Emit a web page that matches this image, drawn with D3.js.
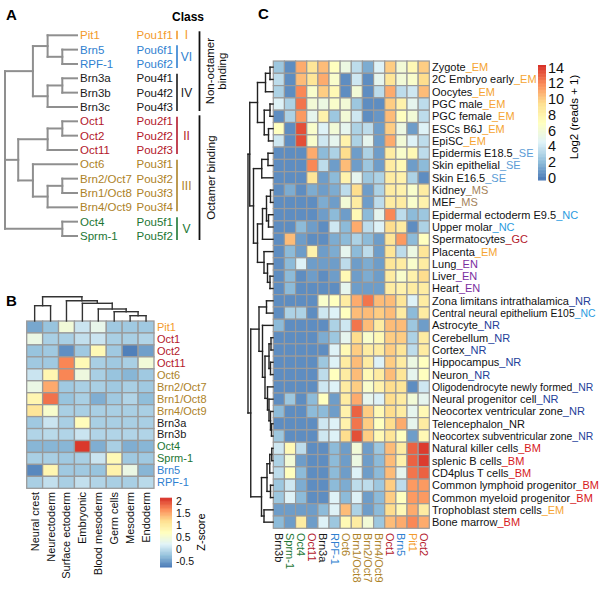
<!DOCTYPE html>
<html><head><meta charset="utf-8">
<script src="https://cdn.jsdelivr.net/npm/d3@7"></script>
<style>body{margin:0;background:#fff}svg{font-family:"Liberation Sans",Arial,Helvetica,sans-serif}</style>
</head><body><svg id="c" width="600" height="589"></svg>
<script>
// ---------------- DATA ----------------
const pouNames = ["Pit1","Brn5","RPF-1","Brn3a","Brn3b","Brn3c","Oct1","Oct2","Oct11","Oct6","Brn2/Oct7","Brn1/Oct8","Brn4/Oct9","Oct4","Sprm-1"];
const pouGenes = ["Pou1f1","Pou6f1","Pou6f2","Pou4f1","Pou4f2","Pou4f3","Pou2f1","Pou2f2","Pou2f3","Pou3f1","Pou3f2","Pou3f3","Pou3f4","Pou5f1","Pou5f2"];
const pouClass = ["I","VI","VI","IV","IV","IV","II","II","II","III","III","III","III","V","V"];
const classOrder = ["I","VI","IV","II","III","V"];
const classColors = ["#f39a2b","#2f7fd0","#1a1a1a","#b3172b","#ad8227","#1c7634"];
const bindingGroups = ["Non-octamer binding","Octamer binding"];
const bindingMembers = [["Pit1","Brn3c"],["Oct1","Sprm-1"]];
// tree A: [height, children...]
const treeA = [4.9,
  [3,[2,"Pit1",[1,"Brn5","RPF-1"]],[2,[1,"Brn3a","Brn3b"],"Brn3c"]],
  [4,[2,[1,"Oct1","Oct2"],"Oct11"],[3,"Oct6",[2,[1,"Brn2/Oct7","Brn1/Oct8"],"Brn4/Oct9"]]],
  [1,"Oct4","Sprm-1"]];

// Panel B
const tissuesB = ["Neural crest","Neurectoderm","Surface ectoderm","Embryonic","Blood mesoderm","Germ cells","Mesoderm","Endoderm"];
const rowsB = ["Pit1","Oct1","Oct2","Oct11","Oct6","Brn2/Oct7","Brn1/Oct8","Brn4/Oct9","Brn3a","Brn3b","Oct4","Sprm-1","Brn5","RPF-1"];
const zB = [
  [-0.4,-0.2,0.5,0.1,0.35,-0.15,-0.15,-0.15],
  [0.4,-0.1,-0.1,0.05,0.1,-0.1,-0.1,-0.05],
  [-0.2,-0.15,-0.55,-0.15,0.8,-0.15,-0.65,-0.45],
  [-0.15,-0.15,1.7,0.8,-0.1,-0.15,-0.1,0.5],
  [0.1,0.85,1.7,0.45,-0.1,-0.2,-0.3,-0.15],
  [0.4,1.5,-0.15,-0.1,-0.1,-0.15,-0.1,-0.15],
  [0.85,1.8,-0.2,-0.1,-0.35,-0.15,-0.05,-0.25],
  [1.1,0.6,-0.1,-0.1,-0.1,-0.1,-0.1,-0.1],
  [-0.15,0.1,-0.1,0.75,-0.1,-0.1,-0.1,-0.1],
  [-0.05,0.0,-0.05,0.1,-0.05,-0.05,-0.05,-0.05],
  [-0.3,-0.3,-0.3,2.1,-0.35,-0.1,-0.35,-0.3],
  [-0.1,-0.1,-0.15,-0.1,0.1,0.8,-0.15,-0.15],
  [-0.6,0.85,-0.15,-0.15,-0.2,0.9,0.4,-0.3],
  [-0.1,0.05,-0.1,0.05,-0.05,-0.1,-0.1,0.0]];
const treeB = [1.0,[0.63,0,1],[0.835,2,[0.728,3,[0.494,4,[0.383,5,[0.218,6,7]]]]]];
const legendBTicks = [2,1.5,1,0.5,0,-0.5];
const legendBRange = [-0.72,2.14];

// Panel C
const colsC = ["Brn3b","Sprm-1","Oct4","Oct11","Brn3a","RPF-1","Oct6","Brn1/Oct8","Brn2/Oct7","Brn4/Oct9","Oct1","Brn5","Pit1","Oct2"];
const rowsC = ["Zygote","2C Embryo early","Oocytes","PGC male","PGC female","ESCs B6J","EpiSC","Epidermis E18.5","Skin epithelial","Skin E16.5","Kidney","MEF","Epidermal ectoderm E9.5","Upper molar","Spermatocytes","Placenta","Lung","Liver","Heart","Zona limitans intrathalamica","Central neural epithelium E105","Astrocyte","Cerebellum","Cortex","Hippocampus","Neuron","Oligodendrocyte newly formed","Neural progenitor cell","Neocortex ventricular zone","Telencephalon","Neocortex subventricular zone","Natural killer cells","splenic B cells","CD4plus T cells","Common lymphoid progenitor","Common myeloid progenitor","Trophoblast stem cells","Bone marrow"];
const rowGroupC = ["EM","EM","EM","EM","EM","EM","EM","SE","SE","SE","MS","MS","NC","NC","GC","EM","EN","EN","EN","NR","NC","NR","NR","NR","NR","NR","NR","NR","NR","NR","NR","BM","BM","BM","BM","BM","EM","BM"];
const groupCodes = ["EM","SE","MS","NC","GC","EN","NR","BM"];
const groupColors = ["#f5a432","#5b9bd5","#a4825a","#2a9be0","#b3172b","#7a2ea0","#24409a","#d7191c"];
const plainSuffixRows = ["Telencephalon"];
const condensedRows = ["Central neural epithelium E105","Oligodendrocyte newly formed","Neocortex subventricular zone"];
const valC = [
  [2.5,0.5,11,9,10.5,7,5.5,3.5,1.5,4.5,10,6,7.5,10],
  [3.5,0.5,10.5,9,11,6.5,0.5,4,0.5,5,9,6,6.5,9.5],
  [3,0.5,12,6.5,10,7.5,0.5,6,0.5,3.5,11,3.5,4,10.5],
  [4.5,3,12.5,6,5.5,6.5,6,2.5,0.5,0.5,10,8,5,3.5],
  [0.5,3,11.5,5,8,2.5,6,4,0.5,0.8,10.5,7,6,3.5],
  [7,0.5,13.5,6.5,4.5,6,5,3,3.5,1,10,5.5,1,4.5],
  [4,0.5,13.5,6.5,4,5,8,3,5,1,11,6,4.5,3.5],
  [0.5,0.5,0.5,11,2,3,9.5,1,3,1,8.5,6.5,7.5,3.5],
  [0.5,0.5,0.5,12,3.5,1,10.5,1,2.5,1,8.5,7.5,1,2],
  [0.5,0.5,0.5,9,1,2,8,5,2.5,3,8.5,8,3,0.5],
  [0.5,1.5,0.5,1.5,1,1.5,3.5,9.5,1,3,8.5,8,6.5,8.5],
  [0.5,0.5,0.5,0.5,1.5,1,6,8.5,1,3.5,8.5,8.5,6.5,8],
  [0.5,0.5,0.5,0.5,1,2,1,7.5,2,5,12,3.5,2,2.5],
  [0.5,0.5,2,1,0.5,4,2,11,3.5,4.5,9.5,8.5,0.5,3],
  [0.5,10.5,1,0.5,0.5,1.5,2,3,2,1,9,11.5,2,7],
  [0.5,2,1,8,1,1.5,5,2,3.5,1,9,3.5,5.5,9],
  [0.5,2,4.5,1,1,1,3.5,1,1.5,1,9,8.5,6.5,8.5],
  [0.5,2,0.5,1,0.5,1,7.5,1,1.5,1,8.5,6.5,8,9.5],
  [0.5,2,0.5,0.5,0.5,0.5,5,1,1,1,8.5,8,8.5,8.5],
  [0.5,0.5,0.5,0.5,6.5,7,8.5,11,12.5,10.5,10.5,9,4.5,8.5],
  [0.5,3,3,0.5,4,4.5,7,10.5,10.5,10,10.5,8.5,2,8.5],
  [2,0.5,0.5,0.5,0.5,3,4,12.5,10.5,8.5,10.5,10.5,2.5,1],
  [0.5,0.5,0.5,0.5,1.5,2.5,5,9.5,6.5,7.5,10,10,3,8.5],
  [0.5,0.5,0.5,0.5,0.5,4.5,7.5,10,8.5,8.5,10,9,3.5,8.5],
  [0.5,0.5,0.5,0.5,2.5,4.5,8.5,10.5,8.5,4.5,10,8.5,5.5,7],
  [0.5,0.5,0.5,0.5,3.5,7,8.5,10.5,7.5,8.5,10.5,9,5,7],
  [0.5,0.5,0.5,0.5,4,4.5,8.5,10,6.5,8,9.5,9,0.5,4],
  [0.5,2.5,0.5,2,7,1,8.5,11,5,4.5,9.5,8.5,6,5],
  [2,0.5,0.5,2,2,1,8,13,10,7.5,9.5,8.5,5,7.5],
  [0.5,0.5,0.5,0.5,4,4.5,8,12.5,10,7,9.5,11,5,8.5],
  [2.5,0.5,0.5,0.5,4,4.5,9.5,13.5,10,7.5,9,7,1,7.5],
  [4,7.5,3.5,0.5,0.5,2,1,6,1,2.5,10.5,8.5,13,14],
  [3,6,1,0.5,0.5,2,1,5.5,1,2,10.5,8,13,14],
  [3.5,7,2,0.5,0.5,2,1,4.5,1,2,10.5,5,12.5,13],
  [2.5,4,1.5,0.5,0.5,2,1.5,3.5,3.5,2.5,10,3.5,11.5,11.5],
  [2.5,4.5,2,0.5,0.5,4.5,2,4.5,1,2,10,7,11.5,11.5],
  [1,1,1,1,2,4.5,10.5,3,1,2,9.5,7.5,11,8.5],
  [2,1,8.5,1,4.5,2.5,7.5,8.5,6,2.5,10.5,11,12,11]];
const treeCcol = [1.0,[0.636,[0.28,0,1],[0.492,2,[0.433,3,[0.28,4,5]]]],[0.83,[0.662,6,[0.45,7,[0.28,8,9]]],[0.705,[0.39,10,11],[0.39,12,13]]]];
const treeCrow = [1.0,
  [0.93,
    [0.62,[0.3,[0.12,0,1],2],[0.35,[0.12,3,4],[0.18,5,6]]],
    [0.78,[0.45,[0.2,7,8],9],[0.62,[0.42,[0.26,[0.1,10,11],[0.18,12,13]],14],[0.36,15,[0.22,16,[0.12,17,18]]]]]],
  [0.89,
    [0.56,[0.26,19,20],[0.42,21,[0.32,[0.16,[0.08,22,23],[0.1,24,25]],[0.22,26,[0.16,27,[0.1,28,[0.06,29,30]]]]]]],
    [0.46,[0.24,[0.13,[0.05,31,32],33],[0.1,34,35]],[0.36,36,37]]]];
const legendCTicks = [14,12,10,8,6,4,2,0];
const legendCRange = [-0.3,14.3];
const legendCTitle = "Log2 (reads + 1)";
const rampColors = ["#4575b4","#91bfdb","#e0f3f8","#ffffbf","#fee090","#fc8d59","#d73027"];

// ---------------- HELPERS ----------------
const svg = d3.select("#c");
const colorOfClass = c => classColors[classOrder.indexOf(c)];
const colorOfName = n => colorOfClass(pouClass[pouNames.indexOf(n)]);
function ramp(dom){
  const stops = rampColors.map((c,i)=>dom[0]+(dom[1]-dom[0])*i/(rampColors.length-1));
  return d3.scaleLinear().domain(stops).range(rampColors).interpolate(d3.interpolateRgb).clamp(true);
}
function dendro(g, tree, leafPos, hScale, orient, stroke, width){
  const segs=[];
  (function rec(node){
    if(!Array.isArray(node)) return {p:leafPos(node), h:0};
    const [h,...kids]=node;
    const cs=kids.map(rec);
    const lo=d3.min(cs,c=>c.p), hi=d3.max(cs,c=>c.p);
    segs.push([lo,h,hi,h]);
    cs.forEach(c=>segs.push([c.p,c.h,c.p,h]));
    return {p:(lo+hi)/2,h};
  })(tree);
  g.selectAll("line.d").data(segs).join("line").attr("class","d")
    .attr("x1",s=>orient==="top"?s[0]:hScale(s[1]))
    .attr("y1",s=>orient==="top"?hScale(s[1]):s[0])
    .attr("x2",s=>orient==="top"?s[2]:hScale(s[3]))
    .attr("y2",s=>orient==="top"?hScale(s[3]):s[2])
    .attr("stroke",stroke).attr("stroke-width",width).attr("stroke-linecap","square");
}
function letter(t,x,y){svg.append("text").attr("x",x).attr("y",y).attr("font-size",15).attr("font-weight","bold").text(t);}

// ---------------- PANEL A ----------------
letter("A",6,20);
const gA = svg.append("g");
const yA = d3.scalePoint().domain(pouNames).range([35.3,236]);
const hA = d3.scaleLinear().domain([0,4.9]).range([77,5]);
dendro(gA, treeA, n=>yA(n), hA, "left", "#8f8f8f", 2);
gA.selectAll("text.n").data(pouNames).join("text").attr("class","n")
  .attr("x",80).attr("y",d=>yA(d)).attr("dy","0.36em").attr("font-size",11.5)
  .attr("fill",d=>colorOfName(d)).text(d=>d);
gA.selectAll("text.g").data(pouGenes).join("text").attr("class","g")
  .attr("x",136.5).attr("y",(d,i)=>yA(pouNames[i])).attr("dy","0.36em").attr("font-size",11.5)
  .attr("fill",(d,i)=>colorOfClass(pouClass[i])).text(d=>d);
svg.append("text").attr("x",172).attr("y",21).attr("font-size",12).attr("font-weight","bold").text("Class");
classOrder.forEach((c,ci)=>{
  const mem = pouNames.filter((n,i)=>pouClass[i]===c).map(n=>yA(n));
  const y0=d3.min(mem)-4.5, y1=d3.max(mem)+4;
  gA.append("line").attr("x1",177).attr("x2",177).attr("y1",y0).attr("y2",y1)
    .attr("stroke",classColors[ci]).attr("stroke-width",1.6);
  gA.append("text").attr("x",186.5).attr("y",(y0+y1)/2).attr("dy","0.36em").attr("text-anchor","middle")
    .attr("font-size",12).attr("fill",classColors[ci]).text(c);
});
bindingGroups.forEach((b,bi)=>{
  const y0=yA(bindingMembers[bi][0])-(bi?6:4), y1=yA(bindingMembers[bi][1])+4;
  gA.append("line").attr("x1",199.5).attr("x2",199.5).attr("y1",y0).attr("y2",y1).attr("stroke","#111").attr("stroke-width",1.8);
  const yc=(y0+y1)/2;
  const lines = bi===0 ? ["Non-octamer","binding"] : [b];
  const xs = bi===0 ? [209.5,221.5] : [211];
  lines.forEach((l,li)=>{
    gA.append("text").attr("transform",`translate(${xs[li]},${yc}) rotate(-90)`).attr("dy","0.36em")
      .attr("text-anchor","middle").attr("font-size",11.5).attr("fill","#111").text(l);
  });
});

// ---------------- PANEL B ----------------
letter("B",6,306);
const gB = svg.append("g");
const xB = d3.scaleBand().domain(tissuesB).range([26.7,154]);
const yB = d3.scaleBand().domain(rowsB).range([321,488.3]);
const cB = ramp(legendBRange);
const cellsB = [];
rowsB.forEach((r,i)=>tissuesB.forEach((t,j)=>cellsB.push({r,t,v:zB[i][j]})));
gB.selectAll("rect.c").data(cellsB).join("rect").attr("class","c")
  .attr("x",d=>xB(d.t)).attr("y",d=>yB(d.r)).attr("width",xB.bandwidth()).attr("height",yB.bandwidth())
  .attr("fill",d=>cB(d.v)).attr("stroke","#9a9a9a").attr("stroke-width",1.3);
gB.selectAll("text.r").data(rowsB).join("text").attr("class","r")
  .attr("x",157).attr("y",d=>yB(d)+yB.bandwidth()/2).attr("dy","0.36em").attr("font-size",11)
  .attr("fill",d=>colorOfName(d)).text(d=>d);
gB.selectAll("text.t").data(tissuesB).join("text").attr("class","t")
  .attr("transform",d=>`translate(${xB(d)+xB.bandwidth()/2},492) rotate(-90)`).attr("dy","0.36em")
  .attr("text-anchor","end").attr("font-size",11).attr("fill","#111").text(d=>d);
const hB = d3.scaleLinear().domain([0,1]).range([321,296.7]);
dendro(gB, treeB, j=>xB(tissuesB[j])+xB.bandwidth()/2, hB, "top", "#333", 1.4);
// legend B
const lyB = d3.scaleLinear().domain(legendBRange).range([567,497.7]);
const stepsB = d3.range(0,120).map(i=>legendBRange[0]+(legendBRange[1]-legendBRange[0])*i/120);
const dB=(legendBRange[1]-legendBRange[0])/120;
gB.selectAll("rect.l").data(stepsB).join("rect").attr("class","l")
  .attr("x",160).attr("width",12).attr("y",v=>lyB(v+dB)).attr("height",v=>lyB(v)-lyB(v+dB)+0.5).attr("fill",v=>cB(v+dB/2));
gB.selectAll("text.lt").data(legendBTicks).join("text").attr("class","lt")
  .attr("x",176).attr("y",v=>lyB(v)).attr("dy","0.36em").attr("font-size",10.5).attr("fill","#111").text(v=>v);
gB.append("text").attr("transform","translate(201,532) rotate(-90)").attr("dy","0.36em")
  .attr("text-anchor","middle").attr("font-size",11).text("Z-score");

// ---------------- PANEL C ----------------
letter("C",258,19);
const gC = svg.append("g");
const xC = d3.scaleBand().domain(colsC).range([273.3,429.3]);
const yC = d3.scaleBand().domain(rowsC).range([61,528.3]);
const cC = ramp(legendCRange);
const cellsC=[];
rowsC.forEach((r,i)=>colsC.forEach((c,j)=>cellsC.push({r,c,v:valC[i][j]})));
gC.selectAll("rect.c").data(cellsC).join("rect").attr("class","c")
  .attr("x",d=>xC(d.c)).attr("y",d=>yC(d.r)).attr("width",xC.bandwidth()).attr("height",yC.bandwidth())
  .attr("fill",d=>cC(d.v)).attr("stroke","#9a9a9a").attr("stroke-width",1.2);
const rl = gC.selectAll("text.r").data(rowsC).join("text").attr("class","r")
  .attr("x",432).attr("y",d=>yC(d)+yC.bandwidth()/2).attr("dy","0.36em")
  .attr("font-size",d=>condensedRows.includes(d)?10.4:11).attr("fill","#111");
rl.append("tspan").text(d=>d);
rl.append("tspan").attr("fill",(d,i)=>plainSuffixRows.includes(d)?"#111":groupColors[groupCodes.indexOf(rowGroupC[i])])
  .text((d,i)=>"_"+rowGroupC[i]);
gC.selectAll("text.cl").data(colsC).join("text").attr("class","cl")
  .attr("transform",d=>`translate(${xC(d)+xC.bandwidth()/2},533) rotate(90)`).attr("dy","0.36em")
  .attr("font-size",11).attr("fill",d=>colorOfName(d)).text(d=>d);
const hCc = d3.scaleLinear().domain([0,1]).range([61,21.7]);
dendro(gC, treeCcol, j=>xC(colsC[j])+xC.bandwidth()/2, hCc, "top", "#222", 1.4);
const hCr = d3.scaleLinear().domain([0,1]).range([273,248]);
dendro(gC, treeCrow, i=>yC(rowsC[i])+yC.bandwidth()/2, hCr, "left", "#222", 1.4);
// legend C
const lyC = d3.scaleLinear().domain(legendCRange).range([180,65]);
const dC=(legendCRange[1]-legendCRange[0])/150;
const stepsC = d3.range(0,150).map(i=>legendCRange[0]+dC*i);
gC.selectAll("rect.l").data(stepsC).join("rect").attr("class","l")
  .attr("x",538).attr("width",8).attr("y",v=>lyC(v+dC)).attr("height",v=>lyC(v)-lyC(v+dC)+0.5).attr("fill",v=>cC(v+dC/2));
gC.selectAll("text.lt").data(legendCTicks).join("text").attr("class","lt")
  .attr("x",548).attr("y",v=>lyC(v)).attr("dy","0.36em").attr("font-size",14.5).attr("fill","#111").text(v=>v);
gC.append("text").attr("transform","translate(574,117) rotate(-90)").attr("dy","0.36em")
  .attr("text-anchor","middle").attr("font-size",11.5).text(legendCTitle);
</script></body></html>
